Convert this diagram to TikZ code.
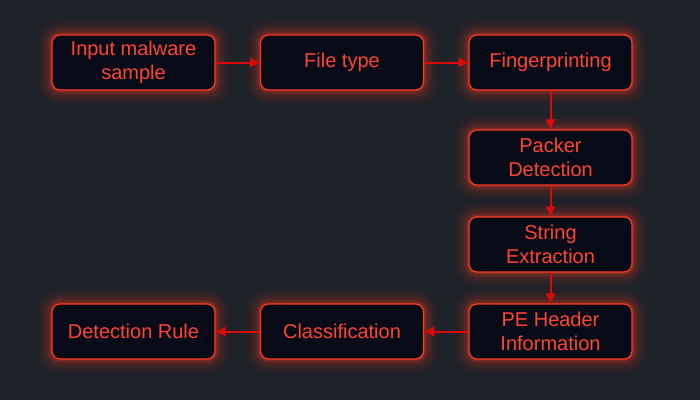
\documentclass[tikz,border=0pt]{standalone}
\usepackage{fontspec}
\setmainfont{Liberation Sans}
\usetikzlibrary{arrows.meta}
\definecolor{bgdark}{HTML}{1E2229}
\definecolor{boxfill}{HTML}{070B17}
\definecolor{glowred}{HTML}{FF3A22}
\definecolor{textred}{HTML}{FF4433}
\definecolor{arrowred}{HTML}{D80A0A}
\begin{document}
\begin{tikzpicture}[x=1pt, y=1pt,
    stage/.style={rectangle, rounded corners=8pt, minimum width=163pt, minimum height=55pt, inner sep=0pt,
        align=center, font=\fontsize{20}{24}\selectfont, text=textred, fill=boxfill, draw=glowred, line width=1.2pt,
        preaction={draw=glowred, line width=30pt, opacity=0.04},
        preaction={draw=glowred, line width=22pt, opacity=0.06},
        preaction={draw=glowred, line width=16pt, opacity=0.08},
        preaction={draw=glowred, line width=10pt, opacity=0.12},
        preaction={draw=glowred, line width=5pt, opacity=0.2}},
    flow/.style={draw=arrowred, line width=2pt, -{Triangle[length=10pt, width=9pt]}}]
                \fill[bgdark] (0,0) rectangle (700,400);
                \useasboundingbox (0,0) rectangle (700,400);
                \node[stage] (input) at (133.5,337.5) {Input malware\\sample};
                \node[stage] (filetype) at (342,337.5) {File type};
                \node[stage] (finger) at (550.5,337.5) {Fingerprinting};
                \node[stage] (packer) at (550.5,242.5) {Packer\\Detection};
                \node[stage] (strings) at (550.5,155.5) {String\\Extraction};
                \node[stage] (peheader) at (550.5,68.5) {PE Header\\Information};
                \node[stage] (classif) at (342,68.5) {Classification};
                \node[stage] (rule) at (133.5,68.5) {Detection Rule};
                \draw[flow] (input) -- (filetype);
                \draw[flow] (filetype) -- (finger);
                \draw[flow] (finger) -- (packer);
                \draw[flow] (packer) -- (strings);
                \draw[flow] (strings) -- (peheader);
                \draw[flow] (peheader) -- (classif);
                \draw[flow] (classif) -- (rule);
            \end{tikzpicture}
\end{document}
